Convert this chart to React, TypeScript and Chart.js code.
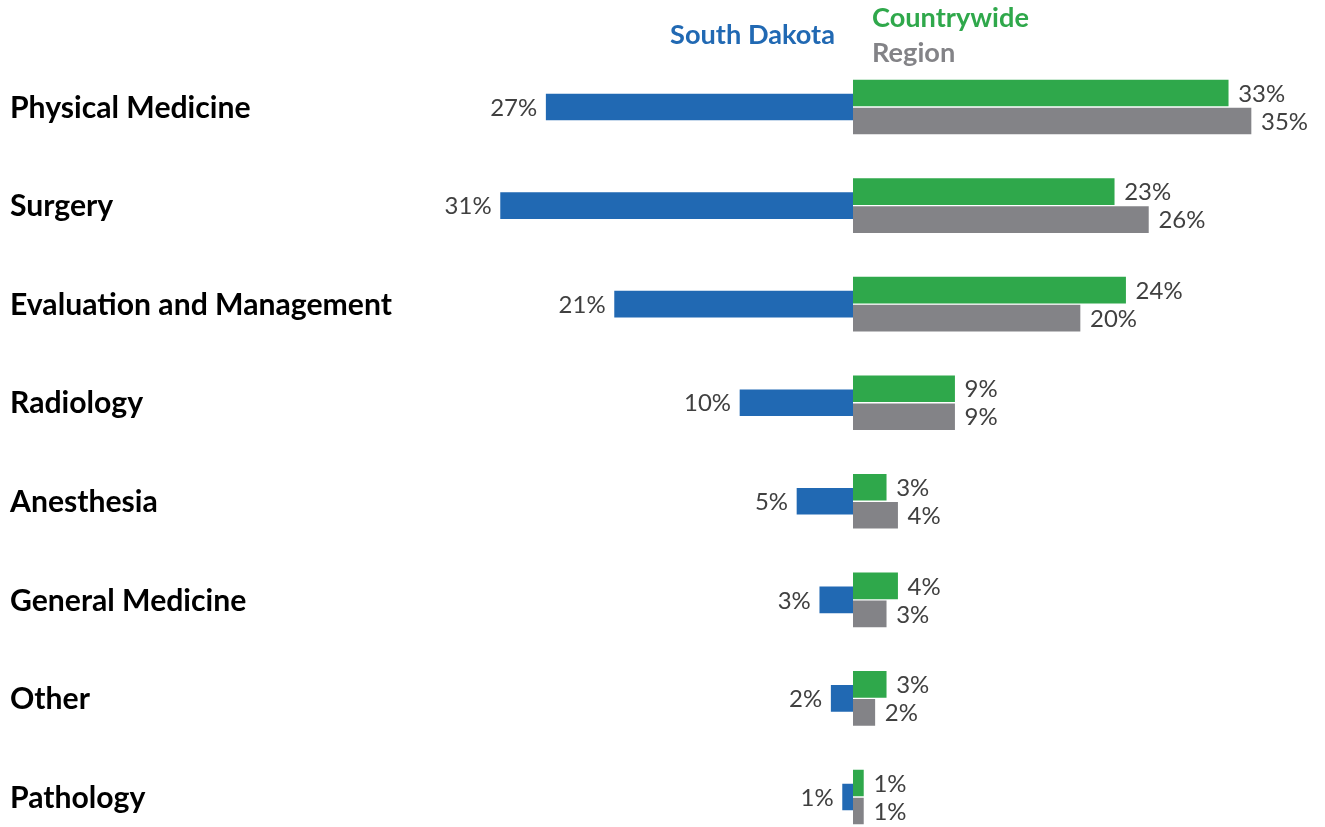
import React, { useEffect, useRef } from "react";
import { Chart, registerables } from "chart.js";

Chart.register(...registerables);

const categories = [
  "Physical Medicine",
  "Surgery",
  "Evaluation and Management",
  "Radiology",
  "Anesthesia",
  "General Medicine",
  "Other",
  "Pathology",
];
const southDakota = [27, 31, 21, 10, 5, 3, 2, 1];
const countrywide = [33, 23, 24, 9, 3, 4, 3, 1];
const region = [35, 26, 20, 9, 4, 3, 2, 1];
const seriesNames = ["South Dakota", "Countrywide", "Region"];

const BLUE = "#2169B3";
const GREEN = "#2FA84B";
const GRAY = "#838387";
const FONT = "Lato";

function fitFont(ctx: CanvasRenderingContext2D, text: string, weight: string, target: number) {
  ctx.font = `${weight} 100px ${FONT}`;
  const w = ctx.measureText(text).width;
  return (100 * target) / w;
}

const overlay = {
  id: "overlay",
  afterDatasetsDraw(chart: any) {
    const ctx: CanvasRenderingContext2D = chart.ctx;
    const ys = chart.scales.y;
    const xs = chart.scales.x;
    ctx.save();
    ctx.textBaseline = "middle";

    // category labels
    const catSize = fitFont(ctx, "Evaluation and Management", "bold", 382);
    ctx.font = `bold ${catSize}px ${FONT}`;
    ctx.fillStyle = "#000000";
    ctx.textAlign = "left";
    categories.forEach((c, i) => ctx.fillText(c, 10, ys.getPixelForValue(i) + 1));

    // value labels
    const valSize = fitFont(ctx, "33%", "normal", 47);
    ctx.font = `normal ${valSize}px ${FONT}`;
    ctx.fillStyle = "#404040";
    chart.data.datasets.forEach((ds: any, di: number) => {
      const meta = chart.getDatasetMeta(di);
      meta.data.forEach((el: any, i: number) => {
        const v = ds.data[i];
        const label = Math.abs(v) + "%";
        if (v < 0) {
          ctx.textAlign = "right";
          ctx.fillText(label, el.x - 8, el.y + 1);
        } else {
          ctx.textAlign = "left";
          ctx.fillText(label, el.x + 9, el.y + 1);
        }
      });
    });

    // legend
    const zero = xs.getPixelForValue(0);
    const legSize = fitFont(ctx, "South Dakota", "bold", 165);
    ctx.font = `bold ${legSize}px ${FONT}`;
    ctx.textAlign = "right";
    ctx.fillStyle = BLUE;
    ctx.fillText(seriesNames[0], zero - 18, 35);
    ctx.textAlign = "left";
    ctx.fillStyle = GREEN;
    ctx.fillText(seriesNames[1], zero + 19, 18);
    ctx.fillStyle = GRAY;
    ctx.fillText(seriesNames[2], zero + 19, 53);
    ctx.restore();
  },
};

export default function App() {
  const ref = useRef<HTMLCanvasElement | null>(null);
  useEffect(() => {
    if (!ref.current) return;
    const chart = new Chart(ref.current, {
      type: "bar",
      data: {
        labels: categories,
        datasets: [
          {
            label: seriesNames[0],
            data: southDakota.map((v) => -v),
            backgroundColor: BLUE,
            borderColor: "rgba(255,255,255,0.55)",
            borderWidth: 1,
            grouped: false,
            barThickness: 28,
            clip: false,
          } as any,
          {
            label: seriesNames[1],
            data: countrywide,
            backgroundColor: GREEN,
            borderColor: "rgba(255,255,255,0.55)",
            borderWidth: 1,
            barThickness: 28,
            clip: false,
          },
          {
            label: seriesNames[2],
            data: region,
            backgroundColor: GRAY,
            borderColor: "rgba(255,255,255,0.55)",
            borderWidth: 1,
            barThickness: 28,
            clip: false,
          },
        ],
      },
      options: {
        indexAxis: "y",
        animation: false,
        responsive: false,
        devicePixelRatio: 1,
        layout: { padding: { left: 397, right: 16, top: 107, bottom: 30 } },
        scales: {
          x: { type: "linear", min: -40, max: 40, display: false, grid: { display: false } },
          y: { type: "category", offset: false, display: false, grid: { display: false } },
        },
        plugins: {
          legend: { display: false },
          tooltip: { enabled: false },
        },
      },
      plugins: [overlay],
    });
    return () => chart.destroy();
  }, []);
  return (
    <div style={{ position: "fixed", left: 0, top: 0, width: 1325, height: 827, background: "#ffffff" }}>
      <canvas ref={ref} width={1325} height={827} style={{ display: "block" }} />
    </div>
  );
}
